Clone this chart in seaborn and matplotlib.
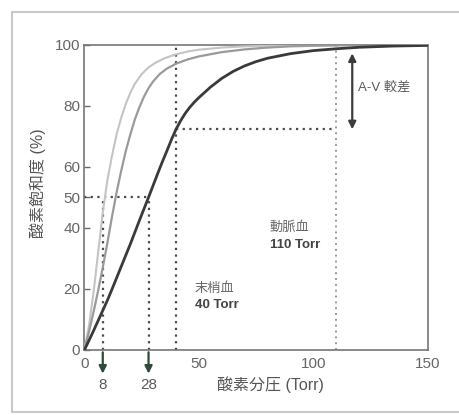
import matplotlib
matplotlib.use("Agg")
import matplotlib.pyplot as plt
import matplotlib.transforms as mtransforms
from matplotlib.lines import Line2D
import seaborn as sns
import pandas as pd

# Oxygen dissociation curves: partial pressure (Torr) vs saturation (%)
light_po2 = [0, 2, 4, 6, 8, 10, 12, 14, 16, 18, 20, 22, 25, 28, 31, 35, 40, 45, 50, 60, 70, 80, 100, 125, 150]
light_sat = [0, 8, 19, 32, 45, 55.5, 63.5, 70.5, 76, 80.5, 84.2, 87.2, 90.4, 92.6, 94.1, 95.6, 96.9, 97.8, 98.4,
             99.1, 99.5, 99.7, 99.9, 100, 100]

mid_po2 = [0, 2, 4, 6, 8, 10, 12, 14, 16, 18, 20, 22, 24, 26, 28, 30, 33, 36, 40, 45, 50, 60, 70, 80, 90, 100,
           120, 150]
mid_sat = [0, 6, 12.5, 19.5, 27, 35, 43.5, 51.5, 58.5, 65, 70.5, 75.5, 79.5, 83, 85.8, 88, 90.5, 92.2, 93.8,
           95.2, 96.2, 97.6, 98.5, 99.1, 99.5, 99.7, 99.9, 100]

dark_po2 = [0, 2, 4, 6, 8, 10, 12, 14, 16, 18, 20, 22, 24, 26, 28, 30, 32, 34, 36, 38, 40, 42, 44, 46, 48, 50,
            55, 60, 65, 70, 75, 80, 90, 100, 110, 120, 135, 150]
dark_sat = [0, 3.1, 6.3, 9.6, 12.9, 16.2, 19.8, 23.5, 27.2, 30.9, 34.6, 38.5, 42.4, 46.2, 50, 53.9, 57.8, 61.6,
            65.2, 68.9, 72.3, 75.1, 77.5, 79.5, 81.2, 82.7, 86.1, 89.0, 91.3, 93.1, 94.5, 95.6, 97.1, 98.1, 98.7,
            99.2, 99.6, 99.8]

p50_marks = [8, 28]
venous_po2, arterial_po2 = 40, 110
venous_sat = 72.3

x_ticks = [0, 50, 100, 150]
y_ticks = [0, 20, 40, 50, 60, 80, 100]

sns.set_style("white")
plt.rcParams["font.family"] = ["Liberation Sans", "Noto Sans CJK JP"]

fig = plt.figure(figsize=(4.59, 4.15), dpi=100)
ax = fig.add_axes([0.184, 0.157, 0.748, 0.735])

curves = pd.concat([
    pd.DataFrame({"po2": light_po2, "sat": light_sat, "curve": "light"}),
    pd.DataFrame({"po2": mid_po2, "sat": mid_sat, "curve": "mid"}),
    pd.DataFrame({"po2": dark_po2, "sat": dark_sat, "curve": "dark"}),
])
palette = {"light": "#c4c4c4", "mid": "#9a9a9a", "dark": "#3a3a3a"}
sizes = {"light": 1.5, "mid": 1.6, "dark": 2.0}
sns.lineplot(data=curves, x="po2", y="sat", hue="curve", size="curve",
             palette=palette, sizes=sizes, sort=False, legend=False, ax=ax, zorder=3,
             solid_joinstyle="round", solid_capstyle="round")

dot = dict(linestyle=(0, (1, 2)), linewidth=1.6, color="#4a4a4a", zorder=2)
# P50 guides
ax.plot([0, p50_marks[1]], [50, 50], **dot)
for p in p50_marks:
    ax.plot([p, p], [0, 50], **dot)
# venous / arterial guides
ax.plot([venous_po2, venous_po2], [0, 100], **dot)
ax.plot([venous_po2, arterial_po2], [venous_sat, venous_sat], **dot)
ax.plot([arterial_po2, arterial_po2], [0, 100], linestyle=(0, (1, 2)), linewidth=1.4,
        color="#9a9a9a", zorder=2)

# A-V difference arrow
ax.annotate("", xy=(117, venous_sat), xytext=(117, 97.2),
            arrowprops=dict(arrowstyle="<|-|>", color="#3c3c3c", lw=1.6,
                            mutation_scale=11, shrinkA=0, shrinkB=0))
ax.text(119.5, 86, "A-V 較差", fontsize=9.5, color="#5a5a5a", va="center", ha="left")

ax.text(81, 40, "動脈血", fontsize=9.5, color="#6a6a6a", va="center", ha="left")
ax.text(81, 34.3, "110 Torr", fontsize=9.5, color="#444444", fontweight="bold",
        va="center", ha="left")
ax.text(48.3, 20.2, "末梢血", fontsize=9.5, color="#6a6a6a", va="center", ha="left")
ax.text(48.3, 14.6, "40 Torr", fontsize=9.5, color="#444444", fontweight="bold",
        va="center", ha="left")

# arrows below the axis marking the P50 values
trans = mtransforms.blended_transform_factory(ax.transData, ax.transAxes)
for p in p50_marks:
    ax.annotate("", xy=(p, -0.078), xytext=(p, -0.008), xycoords=trans, textcoords=trans,
                arrowprops=dict(arrowstyle="-|>", color="#2f4a36", lw=1.6,
                                mutation_scale=11, shrinkA=0, shrinkB=0),
                annotation_clip=False)
    ax.text(p, -0.115, str(p), transform=trans, fontsize=11, color="#5a5a5a",
            ha="center", va="center")

ax.set_xlim(0, 150)
ax.set_ylim(0, 100)
ax.set_xticks(range(0, 151, 10), minor=True)
ax.set_xticks(x_ticks)
ax.set_xticklabels([str(t) for t in x_ticks])
ax.set_yticks(y_ticks)
ax.set_yticklabels([str(t) for t in y_ticks])
ax.tick_params(axis="both", which="both", direction="in", colors="#6a6a6a",
               labelcolor="#666666", labelsize=11)
ax.tick_params(axis="x", which="major", length=5, width=1, pad=5)
ax.tick_params(axis="x", which="minor", length=3.5, width=1)
ax.tick_params(axis="y", which="major", length=4, width=1, pad=3)
ax.tick_params(axis="y", which="major", left=True)

for s in ax.spines.values():
    s.set_color("#777777")
    s.set_linewidth(1.2)

ax.set_xlabel("酸素分圧 (Torr)", fontsize=11.5, color="#555555")
ax.xaxis.label.set_va("center")
ax.xaxis.set_label_coords(0.543, -0.115)
ax.set_ylabel("酸素飽和度 (%)", fontsize=11.5, color="#555555")
ax.yaxis.label.set_va("center")
ax.yaxis.set_label_coords(-0.135, 0.545)

# light frame around the panel
frame_kw = dict(color="#c9c9c9", linewidth=1.5, transform=fig.transFigure)
fig.add_artist(Line2D([12 / 459, 12 / 459], [1 - 12 / 415, 1 - 412 / 415], **frame_kw))
fig.add_artist(Line2D([12 / 459, 1.0], [1 - 12 / 415, 1 - 12 / 415], **frame_kw))
fig.add_artist(Line2D([12 / 459, 1.0], [1 - 412 / 415, 1 - 412 / 415], **frame_kw))

fig.savefig("out.png", dpi=100)
